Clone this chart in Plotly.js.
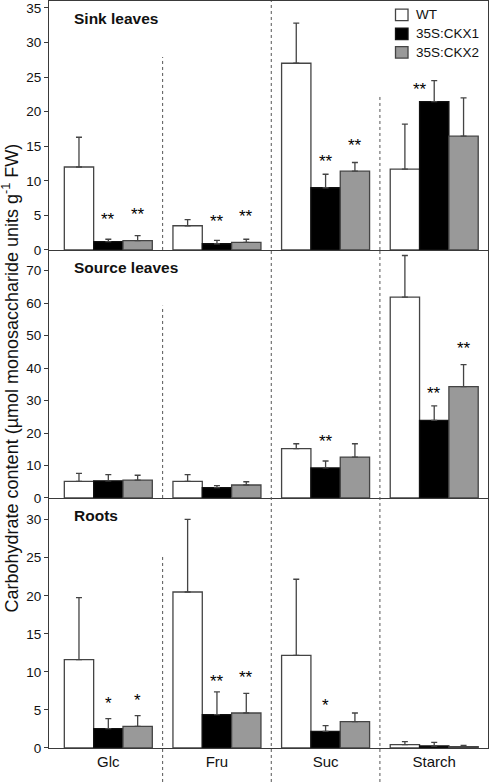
<!DOCTYPE html>
<html>
<head>
<meta charset="utf-8">
<script src="https://cdn.plot.ly/plotly-3.0.1.min.js"></script>
<style>html,body{margin:0;padding:0;background:#fff}#chart{width:489px;height:782px}</style>
</head>
<body>
<div id="chart"></div>
<script>
// ---------- data ----------
var categories = ["Glc", "Fru", "Suc", "Starch"];
var seriesNames = ["WT", "35S:CKX1", "35S:CKX2"];
var panelTitles = ["Sink leaves", "Source leaves", "Roots"];
var yTitle = "Carbohydrate content (µmol monosaccharide units g<sup>-1</sup> FW)";

// Sink leaves
var sinkWT = [12.0, 3.5, 27.0, 11.7];
var sinkWTErr = [4.3, 0.9, 5.8, 6.5];
var sinkCKX1 = [1.2, 0.9, 9.0, 21.45];
var sinkCKX1Err = [0.35, 0.5, 1.95, 3.05];
var sinkCKX2 = [1.35, 1.1, 11.4, 16.45];
var sinkCKX2Err = [0.72, 0.45, 1.25, 5.55];

// Source leaves
var sourceWT = [5.1, 5.1, 15.2, 61.9];
var sourceWTErr = [2.5, 2.1, 1.5, 12.8];
var sourceCKX1 = [5.3, 3.2, 9.25, 23.9];
var sourceCKX1Err = [1.9, 0.6, 2.15, 4.5];
var sourceCKX2 = [5.5, 4.0, 12.6, 34.3];
var sourceCKX2Err = [1.5, 1.0, 4.1, 6.8];

// Roots
var rootsWT = [11.6, 20.5, 12.17, 0.44];
var rootsWTErr = [8.15, 9.55, 10.0, 0.39];
var rootsCKX1 = [2.54, 4.38, 2.19, 0.26];
var rootsCKX1Err = [1.31, 3.0, 0.74, 0.49];
var rootsCKX2 = [2.85, 4.6, 3.46, 0.18];
var rootsCKX2Err = [1.4, 2.58, 1.14, 0.17];

// significance marks (label and value level at which they sit)
var sinkCKX1Sig = ["**", "**", "**", "**"];
var sinkCKX1SigY = [4.8, 4.5, 13.2, 23.6];
var sinkCKX2Sig = ["**", "**", "**", ""];
var sinkCKX2SigY = [5.5, 5.3, 15.5, null];
var sourceCKX1Sig = ["", "", "**", "**"];
var sourceCKX1SigY = [null, null, 18.2, 33.0];
var sourceCKX2Sig = ["", "", "", "**"];
var sourceCKX2SigY = [null, null, null, 47.0];
var rootsCKX1Sig = ["*", "**", "*", ""];
var rootsCKX1SigY = [6.3, 9.15, 6.0, null];
var rootsCKX2Sig = ["*", "**", "", ""];
var rootsCKX2SigY = [6.7, 9.7, null, null];

// ---------- styling ----------
var FONT = "Liberation Sans, Arial, Helvetica, sans-serif";
var LINE = "#3a3a3a";
var fills = ["#ffffff", "#000000", "#999999"];
var outlines = ["#444444", "#111111", "#444444"];

var panels = [
  {xa: "x", ya: "y", data: [sinkWT, sinkCKX1, sinkCKX2], err: [sinkWTErr, sinkCKX1Err, sinkCKX2Err],
   sig: [null, [sinkCKX1Sig, sinkCKX1SigY], [sinkCKX2Sig, sinkCKX2SigY]]},
  {xa: "x2", ya: "y2", data: [sourceWT, sourceCKX1, sourceCKX2], err: [sourceWTErr, sourceCKX1Err, sourceCKX2Err],
   sig: [null, [sourceCKX1Sig, sourceCKX1SigY], [sourceCKX2Sig, sourceCKX2SigY]]},
  {xa: "x3", ya: "y3", data: [rootsWT, rootsCKX1, rootsCKX2], err: [rootsWTErr, rootsCKX1Err, rootsCKX2Err],
   sig: [null, [rootsCKX1Sig, rootsCKX1SigY], [rootsCKX2Sig, rootsCKX2SigY]]}
];

var xIdx = categories.map(function (c, i) { return i; });
var traces = [];
panels.forEach(function (p, pi) {
  for (var s = 0; s < 3; s++) {
    traces.push({
      type: "bar",
      name: seriesNames[s],
      x: xIdx,
      y: p.data[s],
      xaxis: p.xa,
      yaxis: p.ya,
      showlegend: false,
      legendgroup: seriesNames[s],
      marker: {color: fills[s], line: {color: outlines[s], width: 1.3}},
      error_y: {type: "data", symmetric: false, array: p.err[s], arrayminus: p.err[s].map(function () { return 0; }),
                color: "#444444", thickness: 1.3, width: 3},
      hoverinfo: "skip"
    });
  }
});

// significance annotations
var annotations = [];
var offsets = [-0.27, 0, 0.27];
panels.forEach(function (p, pi) {
  for (var s = 1; s < 3; s++) {
    var sg = p.sig[s];
    for (var c = 0; c < categories.length; c++) {
      if (!sg[0][c]) continue;
      annotations.push({
        xref: p.xa, yref: p.ya, x: c + offsets[s], y: sg[1][c],
        text: sg[0][c], showarrow: false, xanchor: "center", yanchor: "middle",
        yshift: -3, xshift: (pi === 0 && c === 3 && s === 1) ? -14 : 0,
        font: {family: FONT, size: 17, color: "#000"}
      });
    }
  }
});

// panel titles
var titleY = [0.977, 0.6426, 0.3119];
panelTitles.forEach(function (t, i) {
  annotations.push({xref: "paper", yref: "paper", x: 0.0524, y: titleY[i], xanchor: "left", yanchor: "middle",
    text: "<b>" + t + "</b>", showarrow: false, font: {family: FONT, size: 15.5, color: "#111"}});
});

// y-axis title
annotations.push({xref: "paper", yref: "paper", x: -0.0866, y: 0.496, xanchor: "center", yanchor: "middle",
  text: yTitle, textangle: -90, showarrow: false, borderpad: 0, font: {family: FONT, size: 18, color: "#111"}});

// legend (drawn as key squares + labels)
var legendRowY = [0.9813, 0.9561, 0.9313];
var legendHalf = 0.0077;
var shapes = [];
seriesNames.forEach(function (n, i) {
  shapes.push({type: "rect", xref: "paper", yref: "paper", x0: 0.7893, x1: 0.8178,
    y0: legendRowY[i] - legendHalf, y1: legendRowY[i] + legendHalf,
    fillcolor: fills[i], line: {color: outlines[i], width: 1.3}});
  annotations.push({xref: "paper", yref: "paper", x: 0.836, y: legendRowY[i], xanchor: "left", yanchor: "middle",
    xshift: -2, text: n, showarrow: false, font: {family: FONT, size: 13.5, color: "#111"}});
});

// dashed separators
function sep(x, y0, y1) {
  return {type: "line", xref: "x3", yref: "paper", x0: x, x1: x, y0: y0, y1: y1,
          line: {color: "#555", width: 1, dash: "3px,3px"}, layer: "above"};
}
shapes = shapes.concat([
  sep(0.5, 0.6667, 0.925), sep(0.5, 0.3347, 0.5921), sep(0.5, -0.0455, 0.2584),
  sep(1.5, -0.0455, 1.0),
  sep(2.5, 0.6667, 0.8755), sep(2.5, -0.0455, 0.6667)
]);

function xaxis(anchor, showLabels, mirror) {
  return {anchor: anchor, matches: anchor === "y3" ? undefined : "x3", range: [-0.546, 3.495],
    tickvals: xIdx, ticktext: categories, showticklabels: showLabels, ticks: "",
    showline: true, linecolor: LINE, linewidth: 1, mirror: mirror, showgrid: false, zeroline: false,
    tickfont: {family: FONT, size: 15, color: "#111"}, fixedrange: true};
}
function yaxis(anchor, domain, range, dtick) {
  return {anchor: anchor, domain: domain, range: range, dtick: dtick, tick0: 0,
    ticks: "outside", ticklen: 4, tickwidth: 1, tickcolor: LINE,
    showline: true, linecolor: LINE, linewidth: 1, mirror: true, showgrid: false, zeroline: false,
    tickfont: {family: FONT, size: 13.5, color: "#111"}, fixedrange: true};
}

var layout = {
  width: 489, height: 782,
  margin: {l: 49, r: 1, t: 1, b: 34, pad: 0},
  paper_bgcolor: "#fff", plot_bgcolor: "#fff",
  barmode: "group", bargap: 0.19, bargroupgap: 0,
  font: {family: FONT, color: "#111"},
  xaxis: xaxis("y", false, true),
  xaxis2: xaxis("y2", false, false),
  xaxis3: xaxis("y3", true, false),
  yaxis: yaxis("x", [0.6667, 1], [0, 36], 5),
  yaxis2: yaxis("x2", [0.3347, 0.6667], [0, 76.4], 10),
  yaxis3: yaxis("x3", [0, 0.3347], [0, 32.85], 5),
  showlegend: false,
  annotations: annotations,
  shapes: shapes
};

Plotly.newPlot("chart", traces, layout, {displayModeBar: false, staticPlot: true});
</script>
</body>
</html>
